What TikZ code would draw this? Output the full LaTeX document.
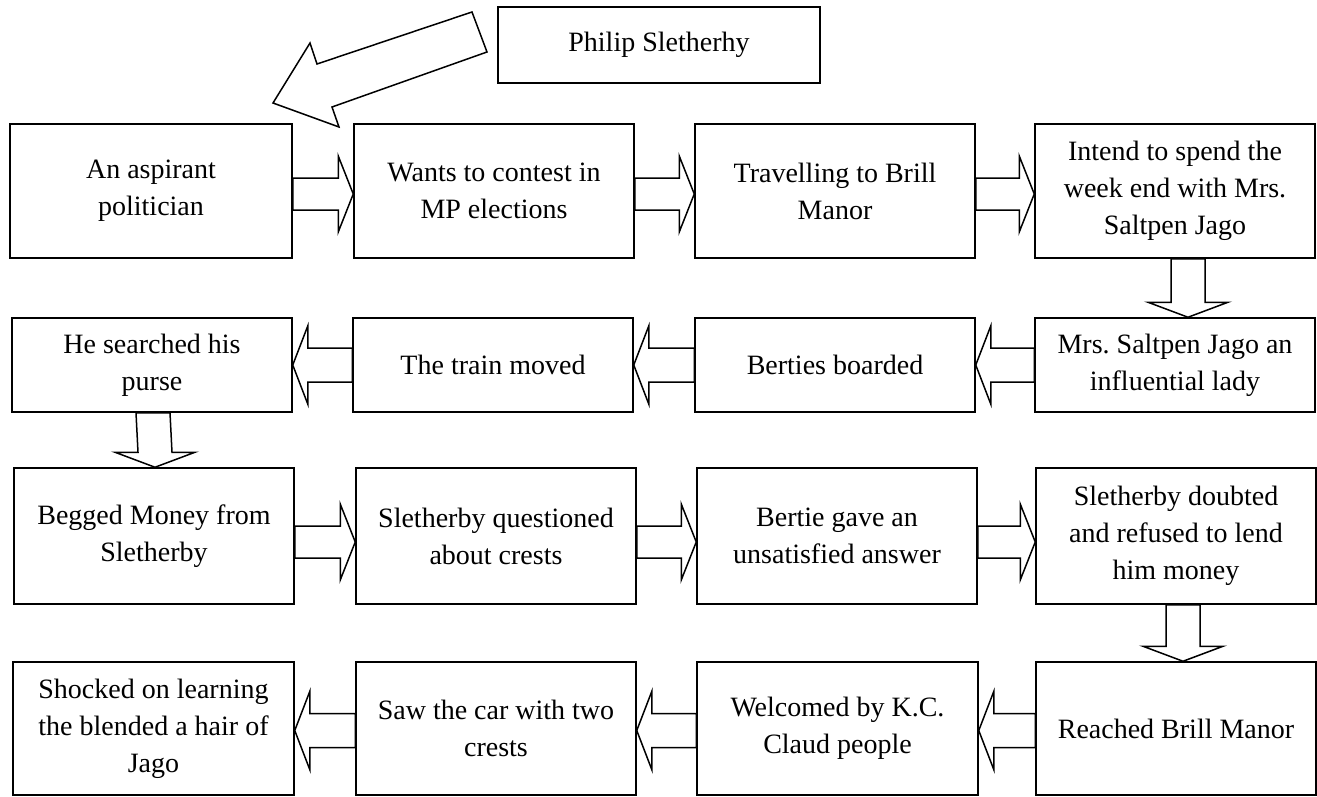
\documentclass[tikz,border=0pt]{standalone}
\usepackage{fontspec}
\setmainfont{Liberation Serif}
\usetikzlibrary{calc}
\frenchspacing
\tikzset{
  box/.style={draw, line width=1.5pt, align=center, inner sep=2pt,
    font=\fontsize{28}{37}\selectfont},
  fat/.style={draw, line width=1.5pt, fill=white, line join=miter},
}
\newcommand{\rarr}[3]{\draw[fat] ($(#1.east)+(0,#3-16)$) -- ($(#2.west)+(-15,#3-16)$) -- ($(#2.west)+(-15,#3-38)$) -- ($(#2.west)+(0,#3)$) -- ($(#2.west)+(-15,#3+38)$) -- ($(#2.west)+(-15,#3+16)$) -- ($(#1.east)+(0,#3+16)$) -- cycle;}
\newcommand{\larr}[3]{\draw[fat] ($(#1.west)+(0,#3-17)$) -- ($(#2.east)+(15,#3-17)$) -- ($(#2.east)+(15,#3-39)$) -- ($(#2.east)+(0,#3)$) -- ($(#2.east)+(15,#3+39)$) -- ($(#2.east)+(15,#3+17)$) -- ($(#1.west)+(0,#3+17)$) -- cycle;}
\newcommand{\darr}[3]{\draw[fat] ($(#1.south)+(#3-17,0)$) -- ($(#2.north)+(#3-17,-15)$) -- ($(#2.north)+(#3-40,-15)$) -- ($(#2.north)+(#3,0)$) -- ($(#2.north)+(#3+40,-15)$) -- ($(#2.north)+(#3+17,-15)$) -- ($(#1.south)+(#3+17,0)$) -- cycle;}
\begin{document}
\begin{tikzpicture}[x=1pt,y=-1pt]
\useasboundingbox (0,0) rectangle (1317,797);
% Philip box
\node[box, minimum width=322pt, minimum height=76pt] (ph) at (659,45) {Philip Sletherhy};
% row 1
\node[box, minimum width=282pt, minimum height=134pt] (a) at (151,191) {An aspirant\\politician};
\node[box, minimum width=280pt, minimum height=134pt] (b) at (494,191) {Wants to contest in\\MP elections};
\node[box, minimum width=280pt, minimum height=134pt] (c) at (835,191) {Travelling to Brill\\Manor};
\node[box, minimum width=280pt, minimum height=134pt] (d) at (1175,191) {Intend to spend the\\week end with Mrs.\\Saltpen Jago};
% row 2
\node[box, minimum width=280pt, minimum height=94pt] (e) at (1175,365) {Mrs. Saltpen Jago an\\influential lady};
\node[box, minimum width=280pt, minimum height=94pt] (f) at (835,365) {Berties boarded};
\node[box, minimum width=280pt, minimum height=94pt] (g) at (493,365) {The train moved};
\node[box, minimum width=280pt, minimum height=94pt] (h) at (152,365) {He searched his\\purse};
% row 3
\node[box, minimum width=280pt, minimum height=136pt] (i) at (154,536) {Begged Money from\\Sletherby};
\node[box, minimum width=280pt, minimum height=136pt] (j) at (496,536) {Sletherby questioned\\about crests};
\node[box, minimum width=280pt, minimum height=136pt] (k) at (837,536) {Bertie gave an\\unsatisfied answer};
\node[box, minimum width=280pt, minimum height=136pt] (l) at (1176,536) {Sletherby doubted\\and refused to lend\\him money};
% row 4
\node[box, minimum width=280pt, minimum height=133pt] (m) at (1176,728.5) {Reached Brill Manor};
\node[box, minimum width=281pt, minimum height=133pt] (n) at (837.5,728.5) {Welcomed by K.C.\\Claud people};
\node[box, minimum width=280pt, minimum height=133pt] (o) at (496,728.5) {Saw the car with two\\crests};
\node[box, minimum width=281pt, minimum height=133pt] (p) at (153.5,728.5) {Shocked on learning\\the blended a hair of\\Jago};
% big arrow from Philip towards row 1
\draw[fat] (472,12) -- (487,52) -- (332,107) -- (339,127) -- (273,103) -- (310,43) -- (317,64) -- cycle;
% row arrows
\rarr{a}{b}{3}
\rarr{b}{c}{3}
\rarr{c}{d}{3}
\darr{d}{e}{13}
\larr{e}{f}{0}
\larr{f}{g}{0}
\larr{g}{h}{0}
\darr{h}{i}{1}
\rarr{i}{j}{6}
\rarr{j}{k}{6}
\rarr{k}{l}{6}
\darr{l}{m}{7}
\larr{m}{n}{2}
\larr{n}{o}{2}
\larr{o}{p}{2}
\end{tikzpicture}
\end{document}
